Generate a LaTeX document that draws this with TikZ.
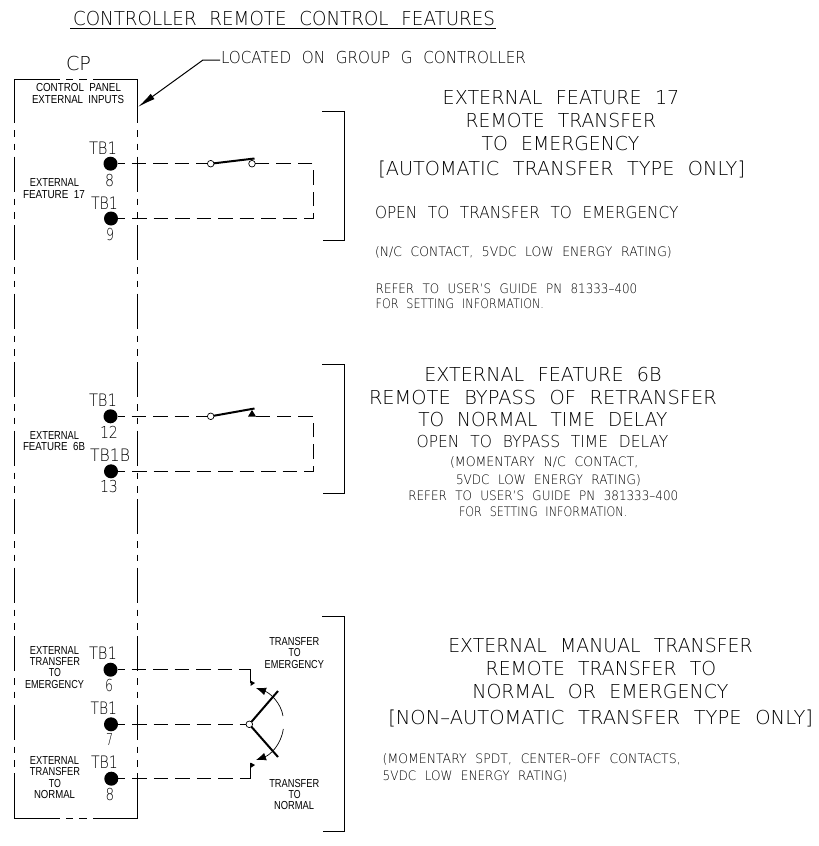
\documentclass[tikz,border=0pt]{standalone}
\usepackage{graphicx}
\usepackage{fontspec}
\usetikzlibrary{arrows.meta}
\setmainfont{DejaVu Sans}[UprightFont=* ExtraLight,WordSpace=2.2]
\newfontfamily\smallfont{Liberation Sans}[WordSpace=2]
\newdimen\ux \ux=.75pt
\tikzset{
  txt/.style={anchor=south west,inner sep=0pt,outer sep=0pt,text=black},
  pin/.style={circle,fill=black,inner sep=0pt,outer sep=0pt,minimum size=14\ux},
  term/.style={circle,draw=black,fill=white,inner sep=0pt,outer sep=0pt,minimum size=6.6\ux,line width=.7\ux},
  wire/.style={line width=1\ux,draw=black,dash pattern=on 14.5\ux off 7\ux,dash phase=7.5\ux},
  phantomline/.style={line width=1\ux,draw=black,dash pattern=on 35\ux off 7\ux on 6.5\ux off 7\ux on 6.5\ux off 6.5\ux,dash phase=35\ux},
  solidline/.style={line width=1\ux,draw=black},
  blade/.style={line width=2\ux,draw=black},
  swing/.style={line width=.7\ux,draw=black,-{Latex[length=7.5pt,width=6pt]}},
  lead/.style={line width=1\ux,draw=black,-{Latex[length=13.5pt,width=4.9pt]}},
}
\newcommand\lab[6]{\pgfmathsetmacro\lw{#3-#2}\node[txt] (#1) at (#2,#4) {\resizebox{\lw\ux}{#5\ux}{\raisebox{0pt}[7.29pt][0pt]{\fontsize{10}{10}\selectfont #6}}};}
\newcommand\labs[6]{\pgfmathsetmacro\lw{#3-#2}\node[txt] (#1) at (#2,#4) {\resizebox{\lw\ux}{#5\ux}{\raisebox{0pt}[7.16pt][0pt]{\fontsize{10}{10}\smallfont\selectfont #6}}};}
\begin{document}
\begin{tikzpicture}[x=.75pt,y=-.75pt]
\useasboundingbox (0,0) rectangle (818,846);
% title
\lab{title}{73}{495}{26}{14}{CONTROLLER REMOTE CONTROL FEATURES}
\coordinate (ula) at (70,28.5); \coordinate (ulb) at (496,28.5);
\draw[solidline] (ula) -- (ulb);
\lab{located}{221}{526}{63}{12}{LOCATED ON GROUP G CONTROLLER}
\coordinate (ls) at (220,60); \coordinate (lb) at (203,60); \coordinate (lt) at (138,107);
\draw[lead] (ls) -- (lb) -- (lt);
\lab{cp}{66}{91}{70}{14}{CP}
% panel outline
\coordinate (tl) at (14.5,79.5); \coordinate (tr) at (137.5,79.5);
\coordinate (bl) at (14.5,818.3); \coordinate (br) at (137.5,818.3);
\draw[solidline] (14.5,123) -- (tl) -- (60,79.5);
\draw[solidline] (66,79.5) -- (73,79.5);
\draw[solidline] (79,79.5) -- (87,79.5);
\draw[solidline] (93,79.5) -- (tr) -- (137.5,123);
\draw[phantomline] (14.5,123) -- (14.5,773);
\draw[phantomline] (137.5,123) -- (137.5,773);
\draw[solidline] (14.5,773) -- (bl) -- (60,818.3);
\draw[solidline] (66,818.3) -- (73,818.3);
\draw[solidline] (79,818.3) -- (87,818.3);
\draw[solidline] (93,818.3) -- (br) -- (137.5,773);
\labs{cpa}{36}{121}{91.7}{8.3}{CONTROL PANEL}
\labs{cpb}{32}{124}{103}{8.3}{EXTERNAL INPUTS}
% feature 17
\labs{fa}{30}{79}{186}{8.3}{EXTERNAL}
\labs{fb}{23}{85}{198}{8.3}{FEATURE 17}
\lab{tba}{89}{117}{154}{12.5}{TB1}
\lab{na}{105}{114}{186}{12}{8}
\lab{tbb}{91}{118}{209}{12.5}{TB1}
\lab{nb}{106}{114}{240}{12}{9}
\node[pin] (d8) at (110.5,163.7) {};
\node[pin] (d9) at (111,218.5) {};
\node[term] (s1) at (210.7,163.7) {};
\node[term] (s2) at (252,163.7) {};
\coordinate (c1) at (313,163.7); \coordinate (c2) at (313,218.5);
\coordinate (b1) at (254.5,158.5);
\draw[wire] (d8) -- (s1);
\draw[wire] (d9) -- (c2) -- (c1) -- (s2);
\draw[blade] (s1) -- (b1);
\coordinate (ba1) at (322,111); \coordinate (ba2) at (344.5,111); \coordinate (ba3) at (344.5,240); \coordinate (ba4) at (323,240);
\draw[solidline] (ba1) -- (ba2) -- (ba3) -- (ba4);
\lab{r1a}{442.7}{679.3}{104.3}{14}{EXTERNAL FEATURE 17}
\lab{r1b}{465.7}{656}{127.3}{14}{REMOTE TRANSFER}
\lab{r1c}{481.7}{639.3}{150}{14}{TO EMERGENCY}
\lab{r1d}{378.3}{745}{175.7}{14}{[AUTOMATIC TRANSFER TYPE ONLY]}
\lab{r1e}{375}{678.3}{218.7}{12}{OPEN TO TRANSFER TO EMERGENCY}
\lab{r1f}{375}{671.7}{256.7}{9.5}{(N/C CONTACT, 5VDC LOW ENERGY RATING)}
\lab{r1g}{375.7}{637.3}{293.3}{9.5}{REFER TO USER'S GUIDE PN 81333–400}
\lab{r1h}{375.7}{544}{308.7}{9.5}{FOR SETTING INFORMATION.}
% feature 6B
\labs{ga}{30}{79}{439}{8.3}{EXTERNAL}
\labs{gb}{23}{85}{450}{8.3}{FEATURE 6B}
\lab{tbc}{89}{117}{406.7}{12.5}{TB1}
\lab{nc}{100}{118}{438.7}{12}{12}
\lab{tbd}{90}{130}{461}{12.5}{TB1B}
\lab{nd}{100}{118}{492.7}{12}{13}
\node[pin] (d12) at (110.5,416.3) {};
\node[pin] (d13) at (111,471.3) {};
\node[term] (s3) at (210.7,416.3) {};
\coordinate (s4) at (256,416.3);
\coordinate (b2) at (254.5,408.5);
\coordinate (c3) at (313,416.3); \coordinate (c4) at (313,471.3);
\fill[black] (248,416.5) -- (256,416.5) -- (252,410) -- cycle;
\draw[wire] (d12) -- (s3);
\draw[wire] (d13) -- (c4) -- (c3) -- (s4);
\draw[blade] (s3) -- (b2);
\coordinate (bb1) at (322,364.5); \coordinate (bb2) at (344.5,364.5); \coordinate (bb3) at (344.5,493); \coordinate (bb4) at (323,493);
\draw[solidline] (bb1) -- (bb2) -- (bb3) -- (bb4);
\lab{r2a}{424.3}{661.7}{381}{14}{EXTERNAL FEATURE 6B}
\lab{r2b}{369}{716.7}{404.3}{14}{REMOTE BYPASS OF RETRANSFER}
\lab{r2c}{418.3}{667.3}{426.7}{14}{TO NORMAL TIME DELAY}
\lab{r2d}{416.7}{668.3}{447}{12}{OPEN TO BYPASS TIME DELAY}
\lab{r2e}{450}{638.3}{466}{9.5}{(MOMENTARY N/C CONTACT,}
\lab{r2f}{456}{640.7}{484}{9.5}{5VDC LOW ENERGY RATING)}
\lab{r2g}{408.3}{678.3}{500.7}{9.5}{REFER TO USER'S GUIDE PN 381333–400}
\lab{r2h}{459}{627.3}{516.3}{9.5}{FOR SETTING INFORMATION.}
% manual transfer
\labs{ha}{30}{79}{654}{8.3}{EXTERNAL}
\labs{hb}{30}{80}{665.3}{8.3}{TRANSFER}
\labs{hc}{49}{61}{676.7}{8.3}{TO}
\labs{hd}{25}{84}{688}{8.3}{EMERGENCY}
\labs{ia}{30}{79}{764.3}{8.3}{EXTERNAL}
\labs{ib}{30}{80}{775.7}{8.3}{TRANSFER}
\labs{ic}{49}{61}{787}{8.3}{TO}
\labs{id}{34}{75}{798.3}{8.3}{NORMAL}
\lab{tbe}{89}{117}{659.3}{12.5}{TB1}
\lab{ne}{105}{113}{691.7}{12}{6}
\lab{tbf}{90.5}{117}{714}{12.5}{TB1}
\lab{nf}{106}{113}{745.7}{12}{7}
\lab{tbg}{91}{118}{768.7}{12.5}{TB1}
\lab{ng}{105.7}{114.3}{800.3}{12}{8}
\node[pin] (d6) at (110.5,669.7) {};
\node[pin] (d7) at (111,724.3) {};
\node[pin] (d8b) at (111.3,778.7) {};
\node[term] (sc) at (249.3,724.3) {};
\coordinate (u1) at (250.5,669.7); \coordinate (u2) at (250.5,683);
\coordinate (l1) at (250.5,778.7); \coordinate (l2) at (250.5,763);
\draw[wire] (d6) -- (u1);
\draw[solidline] (u1) -- (u2);
\draw[wire] (d7) -- (sc);
\draw[wire] (d8b) -- (l1);
\draw[solidline] (l1) -- (l2);
\fill[black] (250.5,680.5) -- (255,683) -- (250.5,686) -- cycle;
\fill[black] (250.5,762.5) -- (255,765) -- (250.5,768) -- cycle;
\coordinate (bu) at (278,691); \coordinate (bl2) at (278,757);
\draw[blade] (sc) -- (bu);
\draw[blade] (sc) -- (bl2);
\coordinate (au) at (283,716); \coordinate (at) at (256,688);
\coordinate (al) at (283.3,729); \coordinate (ab) at (256,760);
\draw[swing] (au) .. controls (281,703) and (270,693) .. (at);
\draw[swing] (al) .. controls (281,745) and (270,755) .. (ab);
\labs{ja}{269.3}{319.3}{645.3}{8.3}{TRANSFER}
\labs{jb}{288.7}{300.7}{656.7}{8.3}{TO}
\labs{jc}{264.7}{324}{668}{8.3}{EMERGENCY}
\labs{ka}{269.3}{319.3}{787}{8.3}{TRANSFER}
\labs{kb}{288.7}{300.7}{798.3}{8.3}{TO}
\labs{kc}{274}{314}{809.7}{8.3}{NORMAL}
\coordinate (bc1) at (322,616); \coordinate (bc2) at (344.5,616); \coordinate (bc3) at (344.5,831); \coordinate (bc4) at (323,831);
\draw[solidline] (bc1) -- (bc2) -- (bc3) -- (bc4);
\lab{r3a}{448.3}{752.7}{652.7}{14}{EXTERNAL MANUAL TRANSFER}
\lab{r3b}{485.7}{716}{675.7}{14}{REMOTE TRANSFER TO}
\lab{r3c}{472.3}{728.3}{698.3}{14}{NORMAL OR EMERGENCY}
\lab{r3d}{388.3}{813}{724}{14}{[NON–AUTOMATIC TRANSFER TYPE ONLY]}
\lab{r3e}{382.7}{680.7}{763.3}{9.5}{(MOMENTARY SPDT, CENTER–OFF CONTACTS,}
\lab{r3f}{382.7}{567.3}{780.7}{9.5}{5VDC LOW ENERGY RATING)}
\end{tikzpicture}
\end{document}
